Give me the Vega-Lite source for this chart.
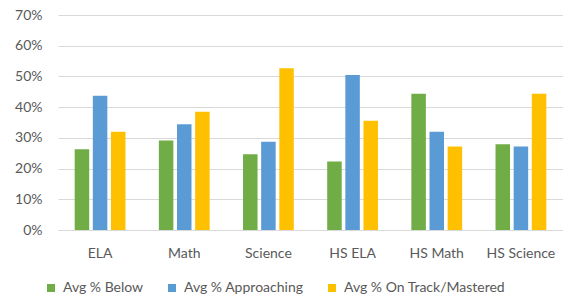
{
  "$schema": "https://vega.github.io/schema/vega-lite/v6.json",
  "autosize": "none",
  "width": 505,
  "height": 215,
  "padding": {"left": 58, "top": 15, "right": 0, "bottom": 73},
  "background": "white",
  "config": {
    "view": {"stroke": null},
    "font": "Lato",
    "axis": {"labelFont": "Lato", "labelColor": "#595959", "labelFontSize": 14},
    "legend": {"labelFont": "Lato", "labelColor": "#595959", "labelFontSize": 14}
  },
  "data": {
    "values": [
      {"subject": "ELA", "series": "Avg % Below", "value": 0.263},
      {"subject": "ELA", "series": "Avg % Approaching", "value": 0.437},
      {"subject": "ELA", "series": "Avg % On Track/Mastered", "value": 0.32},
      {"subject": "Math", "series": "Avg % Below", "value": 0.291},
      {"subject": "Math", "series": "Avg % Approaching", "value": 0.344},
      {"subject": "Math", "series": "Avg % On Track/Mastered", "value": 0.385},
      {"subject": "Science", "series": "Avg % Below", "value": 0.247},
      {"subject": "Science", "series": "Avg % Approaching", "value": 0.287},
      {"subject": "Science", "series": "Avg % On Track/Mastered", "value": 0.527},
      {"subject": "HS ELA", "series": "Avg % Below", "value": 0.223},
      {"subject": "HS ELA", "series": "Avg % Approaching", "value": 0.505},
      {"subject": "HS ELA", "series": "Avg % On Track/Mastered", "value": 0.356},
      {"subject": "HS Math", "series": "Avg % Below", "value": 0.444},
      {"subject": "HS Math", "series": "Avg % Approaching", "value": 0.32},
      {"subject": "HS Math", "series": "Avg % On Track/Mastered", "value": 0.272},
      {"subject": "HS Science", "series": "Avg % Below", "value": 0.279},
      {"subject": "HS Science", "series": "Avg % Approaching", "value": 0.272},
      {"subject": "HS Science", "series": "Avg % On Track/Mastered", "value": 0.444}
    ]
  },
  "mark": {"type": "bar"},
  "encoding": {
    "x": {
      "field": "subject",
      "type": "nominal",
      "sort": ["ELA", "Math", "Science", "HS ELA", "HS Math", "HS Science"],
      "scale": {"paddingInner": 0, "paddingOuter": 0},
      "axis": {
        "title": null,
        "labelAngle": 0,
        "ticks": false,
        "domain": true,
        "domainColor": "#D9D9D9",
        "labelPadding": 16,
        "labelBaseline": "top"
      }
    },
    "xOffset": {
      "field": "series",
      "type": "nominal",
      "sort": ["Avg % Below", "Avg % Approaching", "Avg % On Track/Mastered"],
      "scale": {"paddingInner": 0.2, "paddingOuter": 0.92}
    },
    "y": {
      "field": "value",
      "type": "quantitative",
      "scale": {"domain": [0, 0.7], "nice": false},
      "axis": {
        "title": null,
        "format": ".0%",
        "values": [0, 0.1, 0.2, 0.3, 0.4, 0.5, 0.6, 0.7],
        "domain": false,
        "ticks": false,
        "gridColor": "#D9D9D9",
        "labelPadding": 16
      }
    },
    "color": {
      "field": "series",
      "type": "nominal",
      "sort": ["Avg % Below", "Avg % Approaching", "Avg % On Track/Mastered"],
      "scale": {
        "domain": ["Avg % Below", "Avg % Approaching", "Avg % On Track/Mastered"],
        "range": ["#70AD47", "#5B9BD5", "#FFC000"]
      },
      "legend": {
        "title": null,
        "orient": "none",
        "direction": "horizontal",
        "legendX": -14,
        "legendY": 266,
        "symbolType": "square",
        "symbolSize": 64,
        "symbolStrokeWidth": 0,
        "labelOffset": 5,
        "labelLimit": 400,
        "gridAlign": "none",
        "columnPadding": 21
      }
    }
  }
}
